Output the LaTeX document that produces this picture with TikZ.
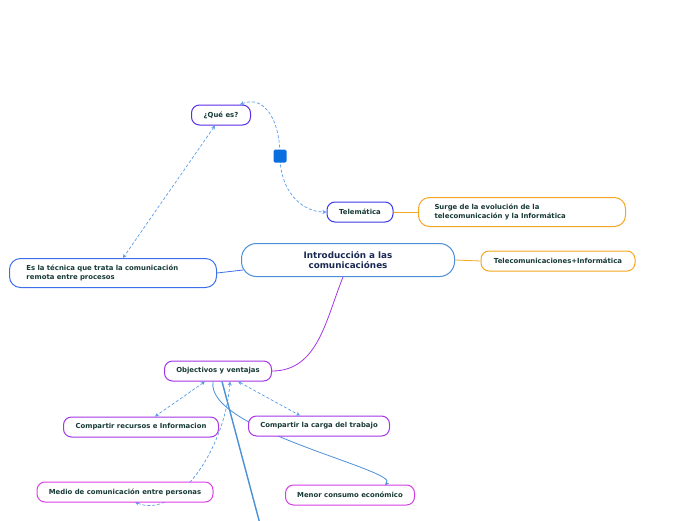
\documentclass[tikz,border=0pt]{standalone}
\usepackage{fontspec}
\setmainfont{DejaVu Sans}
\usetikzlibrary{arrows.meta,positioning,calc}
\definecolor{inktext}{HTML}{173A36}
\definecolor{titleink}{HTML}{1B2A55}
\definecolor{skyline}{HTML}{4A90D9}
\definecolor{linkblue}{HTML}{5A9CE8}
\definecolor{orangeline}{HTML}{F5A623}
\definecolor{violetline}{HTML}{5A2EE6}
\definecolor{blueline}{HTML}{3A3AE8}
\definecolor{royalline}{HTML}{3F6FEA}
\definecolor{purpleline}{HTML}{A535E6}
\definecolor{magentaline}{HTML}{DE3FE6}
\definecolor{handle}{HTML}{0A6FDE}
\tikzset{
  topic/.style={draw,fill=white,line width=1pt,rounded corners=8pt,align=center,font=\bfseries\fontsize{6.9}{8.2}\selectfont,text=inktext,minimum height=20pt,inner sep=2pt},
  note/.style={topic,rounded corners=11pt,align=left,minimum height=29pt},
  dashlink/.style={linkblue,dashed,dash pattern=on 3pt off 2pt,line width=0.7pt},
  tipboth/.style={{Stealth[length=4pt,width=4pt]}-{Stealth[length=4pt,width=4pt]}},
}
\begin{document}
\begin{tikzpicture}[x=1pt,y=-1pt,
  central/.style={topic,draw=skyline,rounded corners=15pt,minimum width=213pt,minimum height=33pt,font=\bfseries\fontsize{8.8}{10}\selectfont,text=titleink},
  plain/.style={line width=0.8pt}]
  \useasboundingbox (0,0) rectangle (696,520);
  % main topic and its neighbours
  \node[central] (intro) at (348,260) {Introducción a las\\comunicaciónes};
  \node[topic,draw=orangeline,minimum width=154pt] (tc) at (558,261) {Telecomunicaciones+Informática};
  \node[note,draw=royalline,text width=173pt,inner xsep=17pt] (tec) at (113,273) {Es la técnica que trata la comunicación\\remota entre procesos};
  \node[topic,draw=violetline,minimum width=59pt] (qe) at (221,115) {¿Qué es?};
  \node[topic,draw=blueline,minimum width=66pt] (tel) at (360,212) {Telemática};
  \node[note,draw=orangeline,text width=175pt,inner xsep=16pt] (sur) at (522,212) {Surge de la evolución de la\\telecomunicación y la Informática};
  % objectives branch
  \node[topic,draw=purpleline,minimum width=107pt] (obj) at (218,371) {Objectivos y ventajas};
  \coordinate (tail) at (260,524);
  \draw[skyline,line width=1.4pt] ($(obj.south)+(4,0)$) -- (tail);
  \draw[skyline,plain,-{Stealth[length=4pt,width=4pt]}] ($(obj.south)+(-5,0)$) .. controls (205,430) and (400,470) .. (385,485);
  \draw[dashlink,tipboth] ($(obj.south)+(12,0)$) .. controls (225,451) and (175,520) .. (135,502);
  \node[topic,draw=purpleline,minimum width=155pt] (rec) at (141,427) {Compartir recursos e Informacion};
  \node[topic,draw=purpleline,minimum width=141pt] (carga) at (319,426) {Compartir la carga del trabajo};
  \node[topic,draw=magentaline,minimum width=176pt] (medio) at (125,492) {Medio de comunicación entre personas};
  \node[topic,draw=magentaline!80!purpleline,minimum width=129pt] (menor) at (350,495) {Menor consumo económico};
  \draw[dashlink,tipboth] ($(obj.south)+(-13,0)$) -- ($(rec.north)+(14,0)$);
  \draw[dashlink,tipboth] ($(obj.south)+(20,0)$) -- ($(carga.north)+(-19,0)$);
  % plain links
  \draw[orangeline,plain] (tel.east) -- (sur.west);
  \draw[orangeline,plain] (intro.east) -- (tc.west);
  \draw[royalline,plain] (tec.east) -- ($(intro.west)+(2,10)$);
  \draw[purpleline,plain] ($(intro.south)+(-5,0)$) to[out=-112,in=0] (obj.east);
  % dashed relations
  \draw[dashlink,tipboth] ($(qe.south)+(-6,0)$) -- ($(tec.north)+(10,0)$);
  \draw[dashlink,tipboth] ($(qe.north)+(19,0)$) .. controls +(25,-10) and +(0,-35) .. (280,156) .. controls +(0,35) and +(-25,0) .. (tel.west);
  \node[fill=handle,rounded corners=1.5pt,minimum size=13pt,inner sep=0pt] (sq) at (280,156) {};
\end{tikzpicture}
\end{document}
